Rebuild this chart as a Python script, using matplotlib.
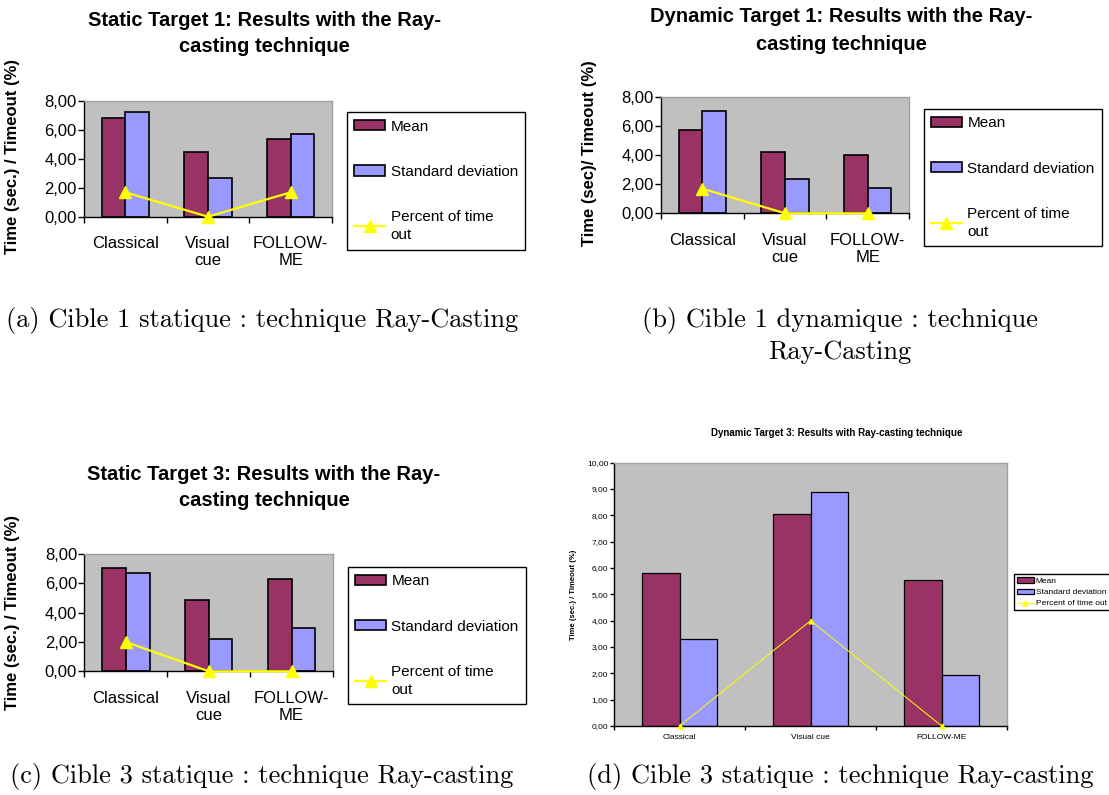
import numpy as np
import matplotlib
matplotlib.use("Agg")
import matplotlib.pyplot as plt

# data
categories = ["Classical", "Visual\ncue", "FOLLOW-\nME"]
categories_d = ["Classical", "Visual cue", "FOLLOW-ME"]

mean_a = [6.78, 4.48, 5.36]
std_a = [7.24, 2.69, 5.70]
pct_a = [1.68, 0.00, 1.68]

mean_b = [5.71, 4.23, 3.98]
std_b = [7.04, 2.33, 1.76]
pct_b = [1.69, 0.00, 0.00]

mean_c = [7.02, 4.86, 6.30]
std_c = [6.68, 2.20, 2.98]
pct_c = [2.00, 0.00, 0.00]

mean_d = [5.81, 8.05, 5.54]
std_d = [3.29, 8.89, 1.94]
pct_d = [0.00, 4.00, 0.00]

series_names = ["Mean", "Standard deviation", "Percent of time\nout"]
series_names_d = ["Mean", "Standard deviation", "Percent of time out"]

W, H = 1109, 795
MEAN_COL = "#993366"
STD_COL = "#9999FF"
PCT_COL = "#FFFF00"
PLOT_BG = "#C0C0C0"

plt.rcParams['font.family'] = ['Liberation Sans', 'DejaVu Sans']

fig = plt.figure(figsize=(W / 100, H / 100), dpi=100)


def px_rect(x0, y0, x1, y1):
    return [x0 / W, 1 - y1 / H, (x1 - x0) / W, (y1 - y0) / H]


def fmt(v):
    return f"{v:.2f}".replace(".", ",")


def draw_chart(rect, mean, std, pct, labels, ymax, ystep, ylabel, ylab_xy,
               leg_xy, names, small=False):
    ax = fig.add_axes(px_rect(*rect))
    ax.set_facecolor(PLOT_BG)
    x = np.arange(len(mean))
    w = 1 / 3.5
    lw_edge = 0.9 if small else 1.2
    b1 = ax.bar(x - w / 2, mean, w, color=MEAN_COL, edgecolor="black", linewidth=lw_edge, label=names[0])
    b2 = ax.bar(x + w / 2, std, w, color=STD_COL, edgecolor="black", linewidth=lw_edge, label=names[1])
    if small:
        ln, = ax.plot(x, pct, color=PCT_COL, lw=0.7, marker="^", ms=3.5, clip_on=False, zorder=5, label=names[2])
    else:
        ln, = ax.plot(x, pct, color=PCT_COL, lw=1.6, marker="^", ms=8, clip_on=False, zorder=5, label=names[2])

    ax.set_xlim(-0.5, len(mean) - 0.5)
    ax.set_ylim(0, ymax)
    yt = np.arange(0, ymax + ystep / 2, ystep)
    ax.set_yticks(yt)
    ax.set_yticklabels([fmt(v) for v in yt])
    # tick marks sit between the categories, labels at the centres
    ax.set_xticks(np.arange(-0.5, len(mean), 1.0))
    ax.set_xticklabels([])
    ax.set_xticks(x, minor=True)
    ax.set_xticklabels(labels, minor=True)

    fs = 6 if small else 12
    ax.tick_params(axis="y", direction="out", length=3 if small else 4.3, width=1,
                   pad=1, labelsize=fs)
    ax.tick_params(axis="x", which="major", direction="out", length=3 if small else 4.3, width=1)
    ax.tick_params(axis="x", which="minor", length=0, pad=6 if small else 14, labelsize=fs)
    for t in ax.get_xticklabels(minor=True):
        t.set_linespacing(1.15)

    for s in ["left", "bottom"]:
        ax.spines[s].set_color("black")
        ax.spines[s].set_linewidth(1)
    for s in ["top", "right"]:
        ax.spines[s].set_color("#A0A0A0")
        ax.spines[s].set_linewidth(1)

    ax.set_ylabel(ylabel, fontweight="bold", fontsize=5.5 if small else 12)
    ax.yaxis.set_label_coords(ylab_xy[0] / W, 1 - ylab_xy[1] / H, transform=fig.transFigure)

    if small:
        leg = ax.legend(handles=[b1, b2, ln], loc="upper left",
                        bbox_to_anchor=(leg_xy[0] / W, 1 - leg_xy[1] / H),
                        bbox_transform=fig.transFigure, borderaxespad=0,
                        fontsize=6, handlelength=2.0, handleheight=0.6,
                        handletextpad=0.25, borderpad=0.35, labelspacing=0.45,
                        fancybox=False, framealpha=1)
    else:
        leg = ax.legend(handles=[b1, b2, ln], loc="upper left",
                        bbox_to_anchor=(leg_xy[0] / W, 1 - leg_xy[1] / H),
                        bbox_transform=fig.transFigure, borderaxespad=0,
                        fontsize=11, handlelength=2.0, handleheight=0.65,
                        handletextpad=0.37, borderpad=0.5, labelspacing=2.05,
                        fancybox=False, framealpha=1)
        for t in leg.get_texts():
            t.set_linespacing(1.35)
    leg.get_frame().set_edgecolor("black")
    leg.get_frame().set_linewidth(1)
    return ax


draw_chart((84, 100.7, 332, 216.7), mean_a, std_a, pct_a, categories, 8, 2,
           "Time (sec.) / Timeout (%)", (20, 157), (346.7, 112), series_names)
draw_chart((661, 96.7, 909, 213.3), mean_b, std_b, pct_b, categories, 8, 2,
           "Time (sec)/ Timeout (%)", (597, 153), (923.5, 108.7), series_names)
draw_chart((84.4, 554, 333, 671.3), mean_c, std_c, pct_c, categories, 8, 2,
           "Time (sec.) / Timeout (%)", (20, 612), (347.6, 566.7), series_names)
draw_chart((614, 462.7, 1007.3, 726), mean_d, std_d, pct_d, categories_d, 10, 1,
           "Time (sec.) / Timeout (%)", (577, 595), (1014, 574.3), series_names_d, small=True)

# chart titles
titles = [
    (264, [(21, "Static Target 1: Results with the Ray-"), (47, "casting technique")], 14.5),
    (841, [(17, "Dynamic Target 1: Results with the Ray-"), (44, "casting technique")], 14.5),
    (264, [(475, "Static Target 3: Results with the Ray-"), (501, "casting technique")], 14.5),
    (837, [(433.3, "Dynamic Target 3: Results with Ray-casting technique")], 7),
]
for cx, lines, fs in titles:
    for cy, txt in lines:
        fig.text(cx / W, 1 - cy / H, txt, ha="center", va="center",
                 fontweight="bold", fontsize=fs)

# subfigure captions
captions = [
    (262.5, 320, "(a) Cible 1 statique : technique Ray-Casting"),
    (840, 320, "(b) Cible 1 dynamique : technique"),
    (840, 352, "Ray-Casting"),
    (262, 777, "(c) Cible 3 statique : technique Ray-casting"),
    (840, 777, "(d) Cible 3 statique : technique Ray-casting"),
]
for cx, cy, txt in captions:
    fig.text(cx / W, 1 - cy / H, txt, ha="center", va="center",
             family="cmr10", fontsize=19)

fig.savefig("out.png", dpi=100)
